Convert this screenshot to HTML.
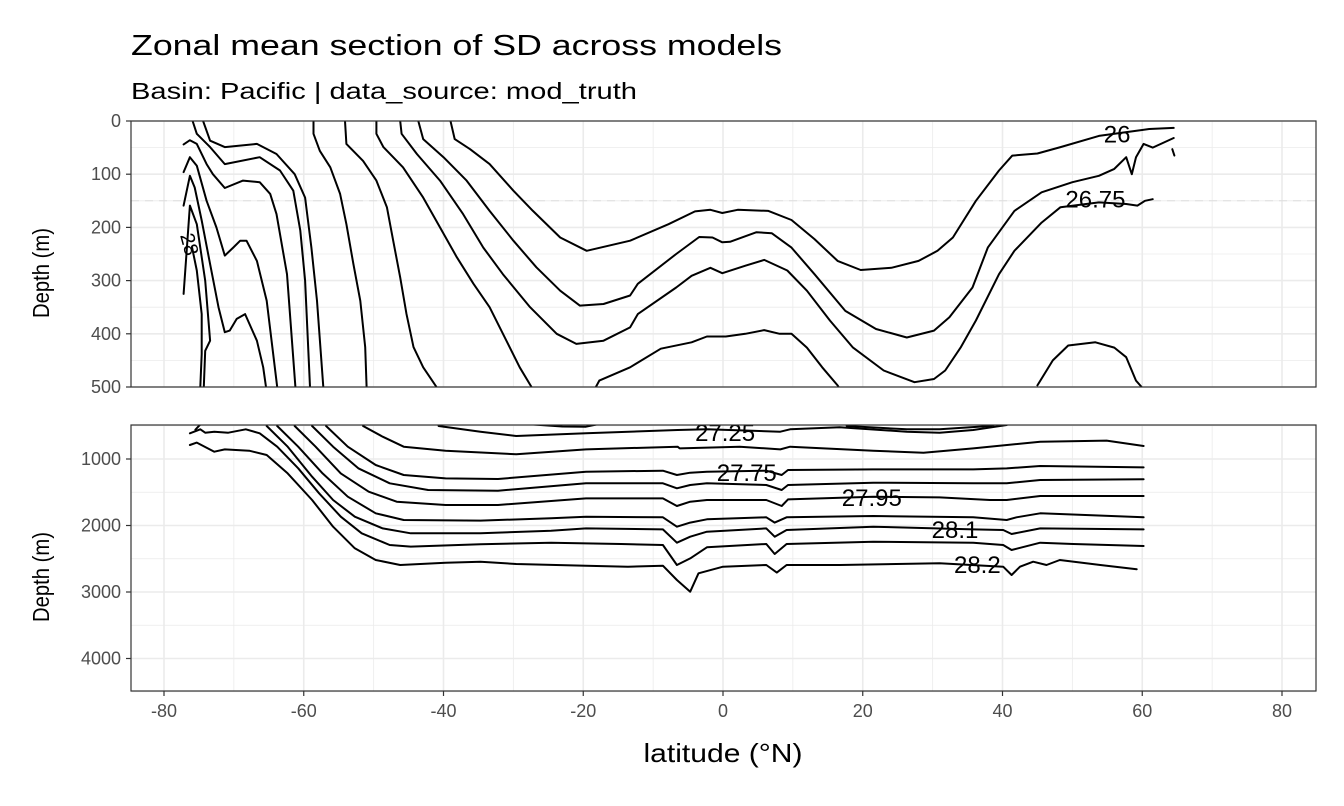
<!DOCTYPE html>
<html><head><meta charset="utf-8">
<style>
html,body{margin:0;padding:0;background:#fff;}
svg{display:block;font-family:"Liberation Sans",sans-serif;}
</style></head>
<body>
<svg id="chart" width="1344" height="806" viewBox="0 0 1344 806" xmlns="http://www.w3.org/2000/svg">
<defs>
<clipPath id="clipTop"><rect x="131" y="121" width="1185" height="266"/></clipPath>
<clipPath id="clipBot"><rect x="131" y="425" width="1185" height="266"/></clipPath>
</defs>
<rect width="1344" height="806" fill="#fff"/>
<text x="131" y="55" font-size="29" fill="#000" textLength="651" lengthAdjust="spacingAndGlyphs">Zonal mean section of SD across models</text>
<text x="131" y="99" font-size="23" fill="#000" textLength="506" lengthAdjust="spacingAndGlyphs">Basin: Pacific | data_source: mod_truth</text>
<g id="gridTop"></g>
<g id="gridBot"></g>
<g id="linesTop" clip-path="url(#clipTop)"></g>
<g id="linesBot" clip-path="url(#clipBot)"></g>
<rect x="131" y="121" width="1185" height="266" fill="none" stroke="#333" stroke-width="1.2"/>
<rect x="131" y="425" width="1185" height="266" fill="none" stroke="#333" stroke-width="1.2"/>
<g id="axes"></g>
<text transform="translate(49,273) rotate(-90)" text-anchor="middle" font-size="23" textLength="90" lengthAdjust="spacingAndGlyphs">Depth (m)</text>
<text transform="translate(49,577) rotate(-90)" text-anchor="middle" font-size="23" textLength="90" lengthAdjust="spacingAndGlyphs">Depth (m)</text>
<text x="723" y="762" text-anchor="middle" font-size="26" textLength="159" lengthAdjust="spacingAndGlyphs">latitude (°N)</text>
</svg>
<script>
const xTicks = [-80,-60,-40,-20,0,20,40,60,80];
const xMinor = [-70,-50,-30,-10,10,30,50,70];
const topTicks = [0,100,200,300,400,500];
const topMinor = [50,150,250,350,450];
const botTicks = [1000,2000,3000,4000];
const botMinor = [500,1500,2500,3500,4500];

const topContours = [
 [[-39.0,0],[-38.4,34],[-36.2,53],[-33.4,81],[-30.0,131],[-27.2,169],[-23.3,219],[-19.5,244],[-13.3,225],[-7.8,194],[-4.0,170],[-1.8,167],[-0.1,173],[2.1,167],[6.5,169],[9.8,186],[13.1,222],[16.4,263],[19.7,280],[24.1,276],[28.0,263],[30.7,244],[32.9,219],[36.2,150],[39.5,93],[41.4,65],[45.0,61],[48.3,49],[53.8,28],[59.3,18],[61.0,15],[64.5,13]],
 [[-43.6,0],[-42.9,34],[-40.0,68],[-36.7,112],[-33.4,169],[-30.0,225],[-26.7,275],[-23.3,319],[-20.5,347],[-17.1,344],[-13.3,328],[-12.2,306],[-6.7,250],[-3.4,218],[-1.5,219],[-0.1,228],[1.0,227],[4.8,209],[7.0,211],[9.8,238],[13.1,288],[17.5,357],[21.9,391],[26.3,407],[30.2,394],[32.4,369],[35.7,313],[37.9,238],[41.7,169],[45.6,134],[50.0,115],[53.8,103],[56.0,90],[57.7,68],[58.5,100],[59.1,68],[60.2,43],[61.5,50],[64.5,32]],
 [[64.3,53],[64.6,65]],
 [[-46.2,0],[-46.0,24],[-43.8,62],[-40.5,112],[-37.2,175],[-34.3,238],[-31.5,288],[-27.6,350],[-23.8,400],[-21.0,419],[-17.1,413],[-13.3,388],[-12.2,363],[-6.7,313],[-4.5,291],[-1.8,276],[-0.1,286],[3.2,272],[5.9,261],[9.2,281],[12.0,319],[15.3,375],[18.6,426],[23.0,469],[27.4,491],[30.2,485],[31.8,469],[34.0,426],[36.2,375],[39.5,288],[41.7,244],[45.6,191],[48.3,162],[53.8,153],[57.7,156],[59.3,159],[60.4,150],[61.5,147]],
 [[-49.6,0],[-49.6,24],[-48.6,49],[-45.8,87],[-42.9,144],[-40.5,200],[-38.1,256],[-35.7,306],[-33.4,350],[-31.0,413],[-29.1,463],[-27.4,500]],
 [[-18.6,510],[-17.7,488],[-13.3,463],[-8.9,428],[-4.5,416],[-2.3,405],[0.4,405],[3.2,400],[5.9,393],[8.1,400],[9.8,400],[12.0,426],[14.2,463],[16.4,497],[17,510]],
 [[45.0,497],[47.2,450],[49.4,422],[53.3,416],[56.0,426],[57.7,444],[59.1,488],[59.9,500]],
 [[-58.6,0],[-58.6,24],[-57.7,56],[-56.2,87],[-54.8,137],[-53.9,194],[-52.9,269],[-51.9,338],[-51.2,425],[-51.0,500]],
 [[-54.1,0],[-53.9,43],[-51.5,75],[-49.6,112],[-48.1,162],[-47.2,225],[-46.2,294],[-45.3,363],[-44.3,425],[-42.9,463],[-41.0,500]],
 [[-74.4,0],[-73.4,37],[-71.3,49],[-66.7,43],[-63.9,62],[-61.3,100],[-59.8,144],[-58.9,238],[-58.1,338],[-57.2,500]],
 [[-75.9,0],[-75.3,24],[-73.4,49],[-71.3,81],[-66.3,68],[-63.4,93],[-61.5,131],[-60.5,206],[-59.8,300],[-59.1,500]],
 [[-77.2,44],[-76.3,36],[-75.3,43],[-73.9,81],[-73.0,100],[-71.3,126],[-68.7,112],[-66.3,115],[-64.8,137],[-63.9,175],[-62.4,288],[-61.2,500]],
 [[-77.2,96],[-76.3,68],[-75.3,84],[-73.9,150],[-72.5,200],[-71.3,253],[-70.1,238],[-69.1,225],[-68.2,225],[-66.7,263],[-65.3,338],[-63.8,500]],
 [[-77.2,159],[-76.3,103],[-75.6,125],[-74.6,187],[-73.4,269],[-72.2,350],[-71.3,397],[-70.6,394],[-69.6,372],[-68.4,363],[-66.7,413],[-65.8,463],[-65.4,500]],
 [[-77.2,325],[-76.3,159],[-75.3,194],[-74.1,300],[-73.4,413],[-74.1,432],[-74.3,500]],
 [[-76.0,237],[-75.3,281],[-74.6,363],[-74.6,438],[-74.8,500]]
];

const botContours = [
 [[-76.3,790],[-75.3,754],[-72.8,890],[-71.3,855],[-67.8,875],[-65.3,940],[-62.3,1216],[-58.8,1617],[-55.8,2018],[-52.7,2343],[-49.7,2519],[-46.2,2594],[-39.7,2559],[-34.7,2544],[-29.6,2579],[-19.6,2604],[-13.6,2619],[-8.6,2604],[-6.6,2820],[-4.7,2995],[-3.5,2719],[0.0,2619],[6.2,2594],[7.7,2709],[9.1,2594],[16.7,2594],[31.0,2569],[40.1,2619],[41.3,2744],[42.5,2619],[44.4,2544],[46.3,2594],[48.2,2519],[54.0,2594],[59.2,2659]],
 [[-76.3,614],[-74.8,554],[-74.1,604],[-72.8,589],[-70.8,604],[-68.3,554],[-66.3,614],[-63.8,815],[-60.8,1140],[-57.8,1516],[-54.7,1867],[-51.7,2118],[-47.7,2293],[-44.7,2318],[-34.7,2283],[-24.6,2258],[-14.6,2278],[-8.6,2293],[-6.6,2594],[-4.7,2494],[-2.3,2328],[6.2,2278],[7.4,2429],[9.1,2278],[21.5,2243],[35.8,2258],[40.1,2293],[41.3,2369],[45.4,2258],[50.1,2278],[60.2,2308]],
 [[-65.3,504],[-62.3,815],[-58.8,1266],[-55.8,1617],[-52.7,1867],[-48.7,2043],[-44.7,2118],[-34.7,2118],[-24.6,2078],[-19.6,2043],[-8.6,2058],[-6.6,2258],[-4.7,2168],[-2.3,2093],[6.2,2043],[7.4,2168],[9.1,2068],[21.5,2018],[35.8,2058],[40.1,2068],[41.3,2128],[45.4,2043],[60.2,2058]],
 [[-63.8,504],[-60.8,815],[-57.3,1216],[-53.7,1567],[-49.7,1817],[-45.7,1917],[-34.7,1927],[-24.6,1892],[-19.6,1867],[-8.6,1877],[-6.6,2018],[-4.7,1957],[-2.3,1907],[6.2,1877],[7.4,1957],[9.1,1877],[21.5,1857],[35.8,1877],[40.6,1917],[42.0,1877],[45.4,1817],[60.2,1877]],
 [[-61.3,504],[-58.3,815],[-54.7,1216],[-50.7,1491],[-46.7,1642],[-39.7,1692],[-32.2,1692],[-19.6,1592],[-8.6,1592],[-6.6,1707],[-4.7,1642],[-2.3,1617],[6.2,1617],[8.4,1707],[9.3,1607],[21.5,1567],[31.0,1577],[38.2,1617],[40.6,1617],[45.4,1557],[60.2,1557]],
 [[-58.8,504],[-55.8,815],[-52.2,1140],[-47.7,1366],[-42.2,1466],[-32.2,1476],[-19.6,1366],[-8.6,1366],[-6.6,1441],[-4.7,1391],[-2.3,1366],[6.2,1391],[8.4,1466],[9.3,1391],[21.5,1356],[35.8,1366],[40.6,1366],[45.4,1316],[60.2,1306]],
 [[-56.8,504],[-53.7,815],[-49.7,1090],[-45.7,1241],[-39.7,1291],[-32.2,1301],[-19.6,1191],[-8.6,1176],[-6.6,1241],[-4.7,1206],[-2.3,1191],[6.2,1176],[8.4,1241],[9.3,1166],[21.5,1156],[35.8,1156],[40.6,1141],[45.4,1106],[60.2,1126]],
 [[-51.5,504],[-48.7,664],[-45.7,815],[-39.7,875],[-29.6,930],[-19.6,855],[-6.5,815],[-6.2,840],[2.4,815],[8.2,855],[9.6,815],[21.5,875],[28.7,905],[35.8,840],[45.4,740],[54.9,724],[60.2,805]],
 [[-40.7,480],[-40.7,504],[-34.7,589],[-29.6,654],[-19.6,614],[-6.5,564],[-2.3,554],[8.2,589],[9.6,554],[16.7,524],[26.3,589],[31.0,604],[35.8,564],[40.6,489]],
 [[-27.4,480],[-23,512],[-19.6,514],[-18,480]],
 [[17.7,480],[17.7,504],[26.3,554],[31.0,554],[38.2,504],[39,480]],
 [[-75.5,560],[-74.8,480]]
];

const topLabels = ["26","26.75"];
const topLabelPos = [[56.4,25],[53.3,148]];
const botLabels = ["27.25","27.75","27.95","28.1","28.2"];
const botLabelPos = [[0.3,609],[3.4,1210],[21.3,1586],[33.2,2068],[36.4,2594]];

const X = lat => 723 + lat*6.9875;
const YT = d => 121 + d*0.532;
const YB = d => 459 + (d-1000)*0.0665;
const NS = "http://www.w3.org/2000/svg";
function mk(tag, attrs, parent){const e=document.createElementNS(NS,tag);for(const k in attrs)e.setAttribute(k,attrs[k]);parent.appendChild(e);return e;}

const gT=document.getElementById('gridTop'), gB=document.getElementById('gridBot'), ax=document.getElementById('axes');
xMinor.forEach(v=>{[[gT,121,387],[gB,425,691]].forEach(([g,a,b])=>{const l=mk('line',{x1:X(v),x2:X(v),y1:a,y2:b,stroke:'#ebebeb','stroke-width':0.8},g);

});});
xTicks.forEach(v=>{[[gT,121,387],[gB,425,691]].forEach(([g,a,b])=>{const l=mk('line',{x1:X(v),x2:X(v),y1:a,y2:b,stroke:'#ebebeb','stroke-width':1.6},g);

});});
topMinor.forEach(v=>{const l=mk('line',{x1:131,x2:1316,y1:YT(v),y2:YT(v),stroke:'#ebebeb','stroke-width':0.8},gT);

});
topTicks.forEach(v=>{const l=mk('line',{x1:131,x2:1316,y1:YT(v),y2:YT(v),stroke:'#ebebeb','stroke-width':1.6},gT);

});
botMinor.forEach(v=>{const l=mk('line',{x1:131,x2:1316,y1:YB(v),y2:YB(v),stroke:'#ebebeb','stroke-width':0.8},gB);

});
botTicks.forEach(v=>{const l=mk('line',{x1:131,x2:1316,y1:YB(v),y2:YB(v),stroke:'#ebebeb','stroke-width':1.6},gB);

});
const dl=mk('line',{x1:131,x2:1316,y1:YT(150),y2:YT(150),stroke:'#dddddd','stroke-width':1,'stroke-dasharray':'8,6'},gT);



function draw(list, g, Y, name){list.forEach(pts=>{const d=pts.map((p,i)=>(i?'L':'M')+X(p[0]).toFixed(1)+','+Y(p[1]).toFixed(1)).join('');
const p=mk('path',{d:d,fill:'none',stroke:'#000','stroke-width':2,'stroke-linejoin':'round','stroke-linecap':'round'},g);

});}
draw(topContours, document.getElementById('linesTop'), YT, 'contour-line');
draw(botContours, document.getElementById('linesBot'), YB, 'contour-line');
const lT=document.getElementById('linesTop'), lB=document.getElementById('linesBot');
topLabels.forEach((s,i)=>{const t=mk('text',{x:X(topLabelPos[i][0]),y:YT(topLabelPos[i][1])+8,'text-anchor':'middle','font-size':24,fill:'#000'},lT);t.textContent=s;

});
botLabels.forEach((s,i)=>{const t=mk('text',{x:X(botLabelPos[i][0]),y:YB(botLabelPos[i][1])+8,'text-anchor':'middle','font-size':24,fill:'#000'},lB);t.textContent=s;

});
const rl=mk('text',{x:0,y:0,'font-size':20,transform:'translate('+X(-77.3)+','+YT(235)+') rotate(75)','text-anchor':'middle',fill:'#000'},lT);rl.textContent='28';



xTicks.forEach(v=>{mk('line',{x1:X(v),x2:X(v),y1:691,y2:696,stroke:'#333','stroke-width':1.2},ax);
const t=mk('text',{x:X(v),y:717,'text-anchor':'middle','font-size':18,fill:'#4d4d4d'},ax);t.textContent=v;

});
topTicks.forEach(v=>{mk('line',{x1:126,x2:131,y1:YT(v),y2:YT(v),stroke:'#333','stroke-width':1.2},ax);
const t=mk('text',{x:121,y:YT(v)+6,'text-anchor':'end','font-size':18,fill:'#4d4d4d'},ax);t.textContent=v;

});
botTicks.forEach(v=>{mk('line',{x1:126,x2:131,y1:YB(v),y2:YB(v),stroke:'#333','stroke-width':1.2},ax);
const t=mk('text',{x:121,y:YB(v)+6,'text-anchor':'end','font-size':18,fill:'#4d4d4d'},ax);t.textContent=v;

});
</script>
</body></html>
